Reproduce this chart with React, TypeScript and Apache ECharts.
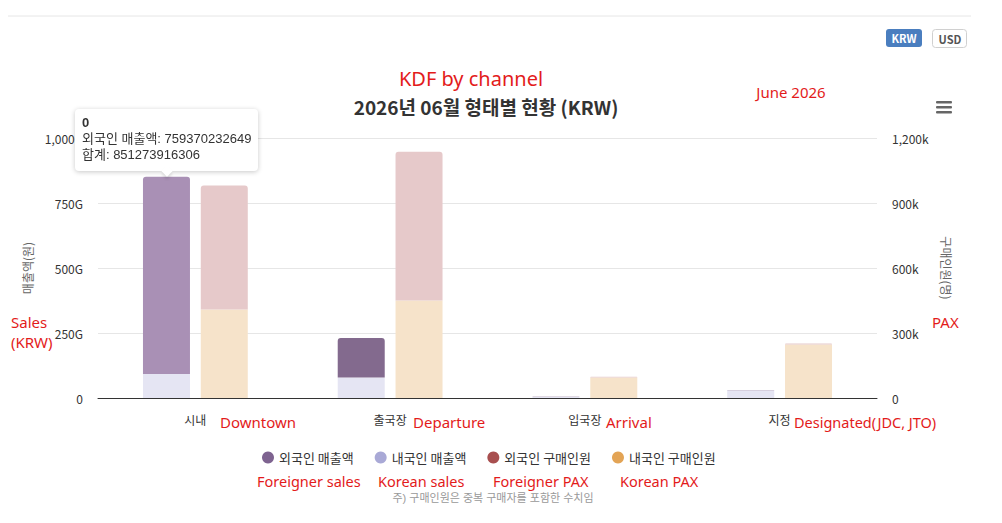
import React, { useEffect, useRef } from "react";
import * as echarts from "echarts";

const categories = ["시내", "출국장", "입국장", "지정"];
const categoryNotes = ["Downtown", "Departure", "Arrival", "Designated(JDC, JTO)"];
const seriesNames = ["외국인 매출액", "내국인 매출액", "외국인 구매인원", "내국인 구매인원"];
const seriesNotes = ["Foreigner sales", "Korean sales", "Foreigner PAX", "Korean PAX"];
const foreignSales = [759370232649, 152e9, 0.6e9, 0.5e9];
const koreanSales = [91903683657, 79e9, 4e9, 29e9];
const foreignPax = [573000, 686000, 3000, 4000];
const koreanPax = [408000, 450000, 95000, 247000];
const salesTicks = { min: 0, max: 1000e9, interval: 250e9 };
const paxTicks = { min: 0, max: 1200e3, interval: 300e3 };

const FONT = "'Noto Sans CJK KR', 'Noto Sans', sans-serif";
const LATIN = "'Noto Sans', 'Noto Sans CJK KR', sans-serif";
const TIGHT = "'Liberation Sans', 'Noto Sans CJK KR', sans-serif";
const RED = "#e31b1b";

export default function App() {
  const ref = useRef<HTMLDivElement>(null);
  useEffect(() => {
    document.body.style.margin = "0";
    const chart = echarts.init(ref.current!, undefined, { renderer: "svg" });
    const legendColors = ["#7e6390", "#a9a9d6", "#a84f4f", "#e3a455"];
    const option: any = {
      animation: false,
      textStyle: { fontFamily: FONT },
      grid: { left: 98, right: 125, top: 138, bottom: 125 },
      tooltip: {
        trigger: "item",
        triggerOn: "none",
        alwaysShowContent: true,
        backgroundColor: "#ffffff",
        borderColor: "#ffffff",
        borderWidth: 0,
        padding: 0,
        extraCssText: "box-shadow: 0 1px 5px rgba(0,0,0,0.22); border-radius: 4px;",
        formatter: (p: any) => {
          const i = p.dataIndex;
          const total = foreignSales[i] + koreanSales[i];
          const line = "display:block;height:16px;line-height:16px;";
          return (
            `<div style="position:relative;padding:6px 7px 8px 7px;font-family:${TIGHT};font-size:13px;line-height:16px;color:#333;white-space:nowrap;">` +
            `<span style="${line}font-weight:bold;">${i}</span>` +
            `<span style="${line}">${p.seriesName}: ${foreignSales[i]}</span>` +
            `<span style="${line}">합계: ${total}</span>` +
            `<div style="position:absolute;left:50%;bottom:-4px;width:8px;height:8px;background:#fff;transform:translateX(-50%) rotate(45deg);box-shadow:2px 2px 3px rgba(0,0,0,0.12);"></div>` +
            `</div>`
          );
        },
        position: (point: any, params: any, dom: any, rect: any, size: any) => {
          const w = size.contentSize[0];
          const h = size.contentSize[1];
          if (rect) return [rect.x + rect.width / 2 - w / 2, rect.y - h - 6];
          return [point[0] - w / 2, point[1] - h - 6];
        },
      },
      legend: {
        left: 257,
        top: 446,
        icon: "circle",
        itemWidth: 12,
        itemHeight: 12,
        itemGap: 21,
        textStyle: { fontSize: 13, lineHeight: 12, color: "#333", fontFamily: FONT },
        data: seriesNames.map((n, i) => ({ name: n, itemStyle: { color: legendColors[i], opacity: 1 } })),
      },
      xAxis: {
        type: "category",
        data: categories,
        axisLine: { lineStyle: { color: "#333", width: 1 } },
        axisTick: { show: false },
        axisLabel: { fontSize: 12, color: "#333", margin: 15, fontFamily: FONT },
      },
      yAxis: [
        {
          type: "value",
          ...salesTicks,
          name: "매출액(원)",
          nameLocation: "middle",
          nameGap: 64,
          nameTextStyle: { fontSize: 12, color: "#666", fontFamily: FONT },
          axisLabel: {
            fontSize: 12,
            color: "#333",
            margin: 15,
            fontFamily: FONT,
            formatter: (v: number) => (v === 0 ? "0" : (v / 1e9).toLocaleString("en-US") + "G"),
          },
          splitLine: { lineStyle: { color: "#e6e6e6" } },
        },
        {
          type: "value",
          ...paxTicks,
          position: "right",
          name: "구매인원(명)",
          nameLocation: "middle",
          nameRotate: -90,
          nameGap: 63,
          nameTextStyle: { fontSize: 12, color: "#666", fontFamily: FONT },
          axisLabel: {
            fontSize: 12,
            color: "#333",
            margin: 15,
            fontFamily: FONT,
            formatter: (v: number) => (v === 0 ? "0" : (v / 1000).toLocaleString("en-US") + "k"),
          },
          splitLine: { show: false },
        },
      ],
      series: [
        {
          name: seriesNames[1],
          type: "bar",
          stack: "sales",
          yAxisIndex: 0,
          barWidth: 47,
          barGap: "23%",
          itemStyle: { color: "#e5e5f3" },
          data: koreanSales,
        },
        {
          name: seriesNames[0],
          type: "bar",
          stack: "sales",
          yAxisIndex: 0,
          barWidth: 47,
          barGap: "23%",
          itemStyle: { color: "#836a8e", borderRadius: [3, 3, 0, 0] },
          data: foreignSales.map((v, i) => (i === 0 ? { value: v, itemStyle: { color: "#a990b5" } } : v)),
        },
        {
          name: seriesNames[3],
          type: "bar",
          stack: "pax",
          yAxisIndex: 1,
          barWidth: 47,
          barGap: "23%",
          itemStyle: { color: "#f6e3ca" },
          data: koreanPax,
        },
        {
          name: seriesNames[2],
          type: "bar",
          stack: "pax",
          yAxisIndex: 1,
          barWidth: 47,
          barGap: "23%",
          itemStyle: { color: "#e6c9ca", borderRadius: [3, 3, 0, 0] },
          data: foreignPax,
        },
      ],
      graphic: [
        { type: "line", shape: { x1: 8, y1: 16, x2: 971, y2: 16 }, style: { stroke: "#e6e6e6", lineWidth: 1 } },
        { type: "rect", shape: { x: 886, y: 29, width: 36, height: 18, r: 3 }, style: { fill: "#4a7ebf" } },
        { type: "text", x: 904, y: 38, style: { text: "KRW", fill: "#fff", font: `bold 11px ${FONT}`, align: "center", verticalAlign: "middle" } },
        { type: "rect", shape: { x: 932.5, y: 29.5, width: 34, height: 18, r: 3 }, style: { fill: "#fff", stroke: "#d0d0d0", lineWidth: 1 } },
        { type: "text", x: 950, y: 38.5, style: { text: "USD", fill: "#555", font: `bold 11px ${FONT}`, align: "center", verticalAlign: "middle" } },
        { type: "text", x: 486, y: 106, style: { text: "2026년 06월 형태별 현황 (KRW)", fill: "#333", font: `bold 19px ${FONT}`, align: "center", verticalAlign: "middle" } },
        { type: "rect", shape: { x: 936, y: 101, width: 16, height: 2.5, r: 1 }, style: { fill: "#666" } },
        { type: "rect", shape: { x: 936, y: 106, width: 16, height: 2.5, r: 1 }, style: { fill: "#666" } },
        { type: "rect", shape: { x: 936, y: 111, width: 16, height: 2.5, r: 1 }, style: { fill: "#666" } },
        { type: "text", x: 471, y: 78, style: { text: "KDF by channel", fill: RED, font: `20px ${LATIN}`, align: "center", verticalAlign: "middle" } },
        { type: "text", x: 791, y: 92, style: { text: "June 2026", fill: RED, font: `15px ${LATIN}`, align: "center", verticalAlign: "middle" } },
        { type: "text", x: 11, y: 322, style: { text: "Sales", fill: RED, font: `15px ${LATIN}`, verticalAlign: "middle" } },
        { type: "text", x: 11, y: 342, style: { text: "(KRW)", fill: RED, font: `15px ${LATIN}`, verticalAlign: "middle" } },
        { type: "text", x: 932, y: 322, style: { text: "PAX", fill: RED, font: `15px ${LATIN}`, verticalAlign: "middle" } },
        { type: "text", x: 220, y: 422, style: { text: categoryNotes[0], fill: RED, font: `15px ${LATIN}`, verticalAlign: "middle" } },
        { type: "text", x: 413, y: 422, style: { text: categoryNotes[1], fill: RED, font: `15px ${LATIN}`, verticalAlign: "middle" } },
        { type: "text", x: 606, y: 422, style: { text: categoryNotes[2], fill: RED, font: `15px ${LATIN}`, verticalAlign: "middle" } },
        { type: "text", x: 794, y: 422, style: { text: categoryNotes[3], fill: RED, font: `14.5px ${LATIN}`, verticalAlign: "middle" } },
        { type: "text", x: 257, y: 481, style: { text: seriesNotes[0], fill: RED, font: `14.5px ${LATIN}`, verticalAlign: "middle" } },
        { type: "text", x: 378, y: 481, style: { text: seriesNotes[1], fill: RED, font: `14.5px ${LATIN}`, verticalAlign: "middle" } },
        { type: "text", x: 493, y: 481, style: { text: seriesNotes[2], fill: RED, font: `14.5px ${LATIN}`, verticalAlign: "middle" } },
        { type: "text", x: 620, y: 481, style: { text: seriesNotes[3], fill: RED, font: `14.5px ${LATIN}`, verticalAlign: "middle" } },
        { type: "text", x: 493, y: 498, style: { text: "주) 구매인원은 중복 구매자를 포함한 수치임", fill: "#999", font: `11px ${TIGHT}`, align: "center", verticalAlign: "middle" } },
      ],
    };
    chart.setOption(option);
    chart.dispatchAction({ type: "showTip", seriesIndex: 1, dataIndex: 0 });
    return () => chart.dispose();
  }, []);
  return <div ref={ref} style={{ width: 1002, height: 523 }} />;
}
